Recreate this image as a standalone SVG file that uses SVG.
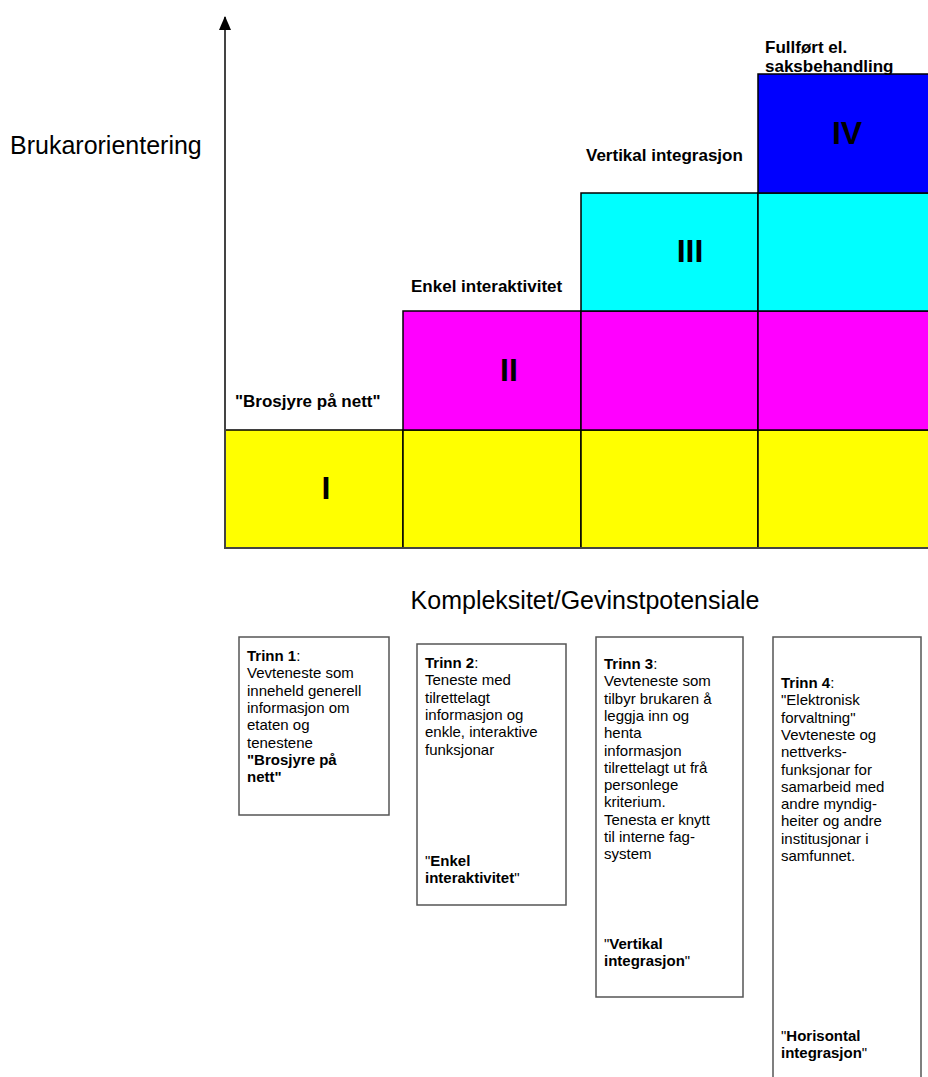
<svg xmlns="http://www.w3.org/2000/svg" width="928" height="1077" viewBox="0 0 928 1077">
<defs>
<style>
.cell{stroke:#000;stroke-width:1.5}
.y{fill:#ffff00}.m{fill:#ff00ff}.c{fill:#00ffff}.b{fill:#0000ff}
.num{font-family:"Liberation Sans",Arial,sans-serif;font-weight:bold;font-size:32px;text-anchor:middle;fill:#000}
.lab{font-family:"Liberation Sans",Arial,sans-serif;font-weight:bold;font-size:17px;fill:#000}
.ax{font-family:"Liberation Sans",Arial,sans-serif;font-size:25px;fill:#000}
.box{fill:#fff;stroke:#555;stroke-width:1.5}
.t{font-family:"Liberation Sans",Arial,sans-serif;font-size:15px;fill:#000}
.t tspan.bd{font-weight:bold}
.axis{stroke:#444;stroke-width:2;fill:none}
</style>
<marker id="arr" markerWidth="14" markerHeight="12" refX="13" refY="6" orient="auto" markerUnits="userSpaceOnUse" viewBox="0 0 14 12">
<path d="M0,0 L14,6 L0,12 Z" fill="#000"/>
</marker>
</defs>
<rect width="928" height="1077" fill="#fff"/>

<g id="row1">
<rect class="cell y" x="225" y="430" width="178" height="118"/>
<rect class="cell y" x="403" y="430" width="178" height="118"/>
<rect class="cell y" x="581" y="430" width="177" height="118"/>
<rect class="cell y" x="758" y="430" width="172" height="118"/>
</g>
<g id="row2">
<rect class="cell m" x="403" y="311" width="178" height="119"/>
<rect class="cell m" x="581" y="311" width="177" height="119"/>
<rect class="cell m" x="758" y="311" width="172" height="119"/>
</g>
<g id="row3">
<rect class="cell c" x="581" y="193" width="177" height="118"/>
<rect class="cell c" x="758" y="193" width="172" height="118"/>
</g>
<g id="row4">
<rect class="cell b" x="758" y="74" width="172" height="119"/>
</g>

<g id="connectors">
<line class="axis" x1="225" y1="549" x2="225" y2="17" marker-end="url(#arr)"/>
<line class="axis" x1="224" y1="548" x2="930" y2="548"/>
</g>

<g id="numerals">
<text class="num" x="326" y="499">I</text>
<text class="num" x="509" y="381">II</text>
<text class="num" x="690" y="262">III</text>
<text class="num" x="847" y="144">IV</text>
</g>

<g id="level-labels">
<text class="lab" x="235" y="407">"Brosjyre på nett"</text>
<text class="lab" x="411" y="292">Enkel interaktivitet</text>
<text class="lab" x="586" y="161">Vertikal integrasjon</text>
<text class="lab" x="765" y="53">Fullført el.</text>
<text class="lab" x="765" y="72">saksbehandling</text>
</g>

<g id="axis-labels">
<text class="ax" x="10" y="154">Brukarorientering</text>
<text class="ax" x="585" y="609" text-anchor="middle">Kompleksitet/Gevinstpotensiale</text>
</g>

<g id="trinn1">
<rect class="box" x="239" y="637" width="150" height="178"/>
<text class="t" x="247" y="661"><tspan class="bd">Trinn 1</tspan>:<tspan x="247" dy="17.3">Vevteneste som</tspan><tspan x="247" dy="17.3">inneheld generell</tspan><tspan x="247" dy="17.3">informasjon om</tspan><tspan x="247" dy="17.3">etaten og</tspan><tspan x="247" dy="17.3">tenestene</tspan><tspan class="bd" x="247" dy="17.3">"Brosjyre på</tspan><tspan class="bd" x="247" dy="17.3">nett"</tspan></text>
</g>

<g id="trinn2">
<rect class="box" x="417" y="644" width="149" height="261"/>
<text class="t" x="425" y="668"><tspan class="bd">Trinn 2</tspan>:<tspan x="425" dy="17.3">Teneste med</tspan><tspan x="425" dy="17.3">tilrettelagt</tspan><tspan x="425" dy="17.3">informasjon og</tspan><tspan x="425" dy="17.3">enkle, interaktive</tspan><tspan x="425" dy="17.3">funksjonar</tspan></text>
<text class="t" x="425" y="866">"<tspan class="bd">Enkel</tspan><tspan class="bd" x="425" dy="17.3">interaktivitet</tspan>"</text>
</g>

<g id="trinn3">
<rect class="box" x="596" y="637" width="147" height="360"/>
<text class="t" x="604" y="669"><tspan class="bd">Trinn 3</tspan>:<tspan x="604" dy="17.3">Vevteneste som</tspan><tspan x="604" dy="17.3">tilbyr brukaren å</tspan><tspan x="604" dy="17.3">leggja inn og</tspan><tspan x="604" dy="17.3">henta</tspan><tspan x="604" dy="17.3">informasjon</tspan><tspan x="604" dy="17.3">tilrettelagt ut frå</tspan><tspan x="604" dy="17.3">personlege</tspan><tspan x="604" dy="17.3">kriterium.</tspan><tspan x="604" dy="17.3">Tenesta er knytt</tspan><tspan x="604" dy="17.3">til interne fag-</tspan><tspan x="604" dy="17.3">system</tspan></text>
<text class="t" x="604" y="949">"<tspan class="bd">Vertikal</tspan><tspan class="bd" x="604" dy="17.3">integrasjon</tspan>"</text>
</g>

<g id="trinn4">
<rect class="box" x="773" y="637" width="148" height="450"/>
<text class="t" x="781" y="688"><tspan class="bd">Trinn 4</tspan>:<tspan x="781" dy="17.3">"Elektronisk</tspan><tspan x="781" dy="17.3">forvaltning"</tspan><tspan x="781" dy="17.3">Vevteneste og</tspan><tspan x="781" dy="17.3">nettverks-</tspan><tspan x="781" dy="17.3">funksjonar for</tspan><tspan x="781" dy="17.3">samarbeid med</tspan><tspan x="781" dy="17.3">andre myndig-</tspan><tspan x="781" dy="17.3">heiter og andre</tspan><tspan x="781" dy="17.3">institusjonar i</tspan><tspan x="781" dy="17.3">samfunnet.</tspan></text>
<text class="t" x="781" y="1041">"<tspan class="bd">Horisontal</tspan><tspan class="bd" x="781" dy="17.3">integrasjon</tspan>"</text>
</g>
</svg>
